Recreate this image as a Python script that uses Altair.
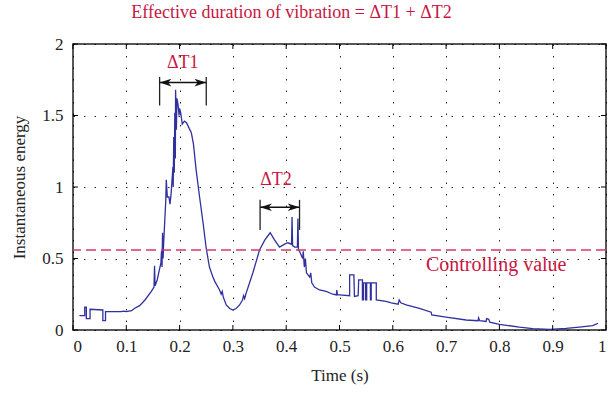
import altair as alt
import pandas as pd

# ---- data ----
time_s = [0.012, 0.022, 0.022, 0.025, 0.025, 0.032, 0.032, 0.056, 0.056, 0.061, 0.061, 0.09, 0.095, 0.10,
          0.11, 0.115, 0.125, 0.135, 0.147, 0.152, 0.153, 0.154, 0.158, 0.162, 0.165, 0.166, 0.167, 0.168,
          0.169, 0.170, 0.172, 0.174, 0.175, 0.177, 0.180, 0.182, 0.184, 0.1875, 0.188, 0.189, 0.190, 0.191,
          0.192, 0.1925, 0.194, 0.195, 0.197, 0.199, 0.200, 0.202, 0.205, 0.209, 0.213, 0.218, 0.222, 0.226,
          0.231, 0.2375, 0.244, 0.25, 0.256, 0.2625, 0.266, 0.275, 0.278, 0.280, 0.282, 0.2875, 0.294, 0.30,
          0.306, 0.3125, 0.318, 0.320, 0.322, 0.325, 0.3375, 0.35, 0.36, 0.37, 0.378, 0.3875, 0.397, 0.403,
          0.410, 0.411, 0.412, 0.416, 0.421, 0.422, 0.423, 0.425, 0.431, 0.432, 0.434, 0.436, 0.438, 0.444,
          0.446, 0.448, 0.453, 0.4625, 0.475, 0.4875, 0.494, 0.495, 0.496, 0.50, 0.519, 0.519, 0.527, 0.528,
          0.535, 0.536, 0.543, 0.543, 0.545, 0.545, 0.549, 0.549, 0.551, 0.551, 0.558, 0.558, 0.5595, 0.5595,
          0.569, 0.569, 0.5875, 0.597, 0.61, 0.612, 0.615, 0.625, 0.65, 0.672, 0.673, 0.70, 0.7375, 0.76,
          0.761, 0.763, 0.775, 0.776, 0.780, 0.782, 0.80, 0.8375, 0.8625, 0.894, 0.925, 0.95, 0.975, 0.985]
energy = [0.10, 0.10, 0.16, 0.16, 0.08, 0.08, 0.145, 0.14, 0.065, 0.065, 0.128, 0.128, 0.132, 0.128,
          0.135, 0.15, 0.17, 0.21, 0.27, 0.30, 0.45, 0.31, 0.35, 0.42, 0.47, 0.55, 0.44, 0.68,
          0.50, 0.60, 0.75, 0.90, 1.05, 0.93, 0.93, 0.88, 0.95, 1.14, 1.0, 1.35, 1.1, 1.52,
          1.2, 1.68, 1.4, 1.62, 1.58, 1.50, 1.55, 1.52, 1.44, 1.46, 1.45, 1.41, 1.38, 1.30,
          1.12, 0.93, 0.75, 0.57, 0.44, 0.37, 0.34, 0.28, 0.25, 0.27, 0.23, 0.175, 0.15, 0.14,
          0.15, 0.175, 0.21, 0.24, 0.22, 0.26, 0.40, 0.56, 0.63, 0.68, 0.63, 0.58, 0.60, 0.61,
          0.60, 0.79, 0.59, 0.58, 0.58, 0.78, 0.56, 0.55, 0.50, 0.55, 0.44, 0.50, 0.40, 0.37,
          0.40, 0.33, 0.30, 0.28, 0.27, 0.25, 0.245, 0.28, 0.245, 0.245, 0.24, 0.385, 0.385, 0.235,
          0.24, 0.35, 0.35, 0.21, 0.21, 0.33, 0.33, 0.21, 0.21, 0.33, 0.33, 0.21, 0.21, 0.33,
          0.33, 0.21, 0.20, 0.19, 0.18, 0.21, 0.19, 0.175, 0.152, 0.125, 0.105, 0.09, 0.07, 0.065,
          0.085, 0.065, 0.06, 0.08, 0.075, 0.055, 0.04, 0.02, 0.01, 0.005, 0.012, 0.02, 0.03, 0.047]

controlling_value = 0.56
x_ticks = [0, 0.1, 0.2, 0.3, 0.4, 0.5, 0.6, 0.7, 0.8, 0.9, 1]
y_ticks = [0, 0.5, 1, 1.5, 2]

interval_labels = ["ΔT1", "ΔT2"]
interval_start = [0.1625, 0.351]
interval_end = [0.25, 0.425]
arrow_level = [1.73, 0.858]
bar_top = [1.77, 0.91]
bar_bottom = [1.57, 0.70]
label_x = [0.206, 0.381]
label_y = [1.865, 1.05]

title_text = ["Effective duration of vibration = ΔT1 + ΔT2"]
title_x = [0.41]
title_y = [2.215]
control_label = ["Controlling value"]
control_x = [0.794]
control_y = [0.455]

# ---- styling ----
FONT = "Liberation Serif"
RED = "#C8163F"
DASH_RED = "#D63A66"
BLUE = "#30309E"
INK = "#222222"

xs = alt.Scale(domain=[0, 1], nice=False, zero=False)
ys = alt.Scale(domain=[0, 2], nice=False, zero=False)

df = pd.DataFrame({"t": time_s, "e": energy, "i": list(range(len(time_s)))})

axis_style = dict(grid=True, gridColor="black", gridWidth=1, gridOpacity=0.85, ticks=False,
                  domain=False, labelFont=FONT, labelFontSize=17, labelColor=INK,
                  titleFont=FONT, titleFontSize=17, titleFontWeight="normal", titleColor=INK,
                  format="~g")

line = alt.Chart(df).mark_line(color=BLUE, strokeWidth=1.3, strokeJoin="miter").encode(
    x=alt.X("t:Q", scale=xs, title="Time (s)",
            axis=alt.Axis(values=x_ticks, gridDash=[1.5, 10], labelPadding=8, titlePadding=13,
                          **axis_style)),
    y=alt.Y("e:Q", scale=ys, title="Instantaneous energy",
            axis=alt.Axis(values=y_ticks, gridDash=[1.5, 9], labelPadding=10, titlePadding=13,
                          **axis_style)),
    order="i:Q",
)

ctrl_df = pd.DataFrame({"v": [controlling_value]})
ctrl = alt.Chart(ctrl_df).mark_rule(color=DASH_RED, strokeDash=[10, 5], strokeWidth=1.5).encode(
    y=alt.Y("v:Q", scale=ys)
)

# tick marks (inward) on four sides
xt = pd.DataFrame({"x": x_ticks})
yt = pd.DataFrame({"y": y_ticks})
xb = alt.Chart(xt).mark_rule(color="black", strokeWidth=1).encode(
    x=alt.X("x:Q", scale=xs), y=alt.value(286), y2=alt.value(281))
xtp = alt.Chart(xt).mark_rule(color="black", strokeWidth=1).encode(
    x=alt.X("x:Q", scale=xs), y=alt.value(0), y2=alt.value(5))
yl = alt.Chart(yt).mark_rule(color="black", strokeWidth=1).encode(
    y=alt.Y("y:Q", scale=ys), x=alt.value(0), x2=alt.value(5))
yr = alt.Chart(yt).mark_rule(color="black", strokeWidth=1).encode(
    y=alt.Y("y:Q", scale=ys), x=alt.value(533), x2=alt.value(528))

iv = pd.DataFrame({"lab": interval_labels, "s": interval_start, "e": interval_end,
                   "a": arrow_level, "top": bar_top, "bot": bar_bottom,
                   "lx": label_x, "ly": label_y})

bars_s = alt.Chart(iv).mark_rule(color=INK, strokeWidth=1.3).encode(
    x=alt.X("s:Q", scale=xs), y=alt.Y("top:Q", scale=ys), y2="bot:Q")
bars_e = alt.Chart(iv).mark_rule(color=INK, strokeWidth=1.3).encode(
    x=alt.X("e:Q", scale=xs), y=alt.Y("top:Q", scale=ys), y2="bot:Q")
shaft = alt.Chart(iv).mark_rule(color="#111111", strokeWidth=1.5).encode(
    x=alt.X("s:Q", scale=xs), x2="e:Q", y=alt.Y("a:Q", scale=ys))
head_r = alt.Chart(iv).mark_point(
    shape="M0,0 L-1,-0.32 L-0.72,0 L-1,0.32 Z", size=560, filled=True, color="#111111", opacity=1
).encode(x=alt.X("e:Q", scale=xs), y=alt.Y("a:Q", scale=ys))
head_l = alt.Chart(iv).mark_point(
    shape="M0,0 L1,-0.32 L0.72,0 L1,0.32 Z", size=560, filled=True, color="#111111", opacity=1
).encode(x=alt.X("s:Q", scale=xs), y=alt.Y("a:Q", scale=ys))
labels = alt.Chart(iv).mark_text(font=FONT, fontSize=18, color=RED, baseline="middle").encode(
    x=alt.X("lx:Q", scale=xs), y=alt.Y("ly:Q", scale=ys), text="lab:N")

title_df = pd.DataFrame({"x": title_x, "y": title_y, "s": title_text})
title_mark = alt.Chart(title_df).mark_text(font=FONT, fontSize=18, color=RED, baseline="middle").encode(
    x=alt.X("x:Q", scale=xs), y=alt.Y("y:Q", scale=ys), text="s:N")

ctrl_txt_df = pd.DataFrame({"x": control_x, "y": control_y, "s": control_label})
ctrl_txt = alt.Chart(ctrl_txt_df).mark_text(font=FONT, fontSize=20, color=RED, baseline="middle").encode(
    x=alt.X("x:Q", scale=xs), y=alt.Y("y:Q", scale=ys), text="s:N")

chart = alt.layer(
    line, ctrl, xb, xtp, yl, yr, bars_s, bars_e, shaft, head_r, head_l, labels, title_mark, ctrl_txt
).properties(
    width=533, height=286,
    autosize=alt.AutoSizeParams(type="none"),
    padding={"left": 73, "top": 44, "right": 2, "bottom": 63},
    background="white",
).configure_view(
    stroke=INK, strokeWidth=1.5
)

chart.save("out.html", embed_options={"renderer": "svg", "actions": False})
